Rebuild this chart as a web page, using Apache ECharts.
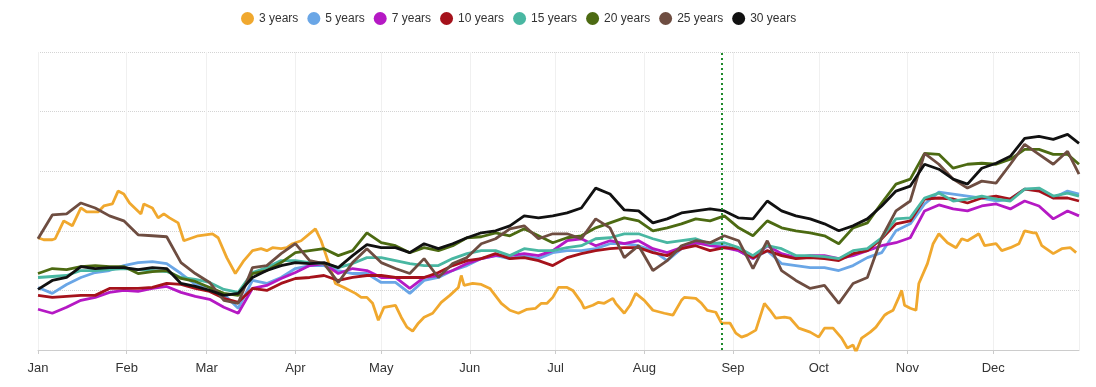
<!DOCTYPE html>
<html><head><meta charset="utf-8">
<style>html,body{margin:0;padding:0;background:#fff}#c{width:1096px;height:387px}</style>
<script src="https://cdn.jsdelivr.net/npm/echarts@6/dist/echarts.min.js"></script>
</head><body><div id="c"></div>
<script>
// day-of-year sampling shared by the 5..30 year series
const days = [0,5,10,15,20,25,30,35,40,45,50,55,60,65,70,75,80,85,90,95,100,105,110,115,120,125,130,135,140,145,150,155,160,165,170,175,180,185,190,195,200,205,210,215,220,225,230,235,240,245,250,255,260,265,270,275,280,285,290,295,300,305,310,315,320,325,330,335,340,345,350,355,360,364];

const days3 = [0,2,5,6,9,12,15,17,21,23,26,28,30,32,36,37,40,42,44,46,49,51,56,61,63,66,69,72,75,78,80,82,85,87,89,92,97,99,101,104,107,111,113,115,117,119,121,125,127,129,131,133,135,138,141,144,147,148,149,152,155,158,162,165,168,171,174,176,178,180,182,185,187,190,191,194,196,198,201,202,205,207,209,212,215,219,222,225,226,230,232,234,237,239,242,244,246,248,251,254,256,258,261,263,266,270,273,275,278,281,283,285,286,288,291,293,296,297,299,301,302,303,305,307,308,311,313,315,318,321,323,325,329,331,335,337,340,343,345,348,349,351,355,358,361,363];
const y3 = [1.13,1.11,1.11,1.12,1.30,1.25,1.43,1.39,1.39,1.45,1.47,1.60,1.57,1.48,1.37,1.47,1.43,1.33,1.37,1.33,1.28,1.10,1.15,1.17,1.13,0.93,0.77,0.90,1.00,1.02,1.00,1.03,1.02,1.03,1.07,1.10,1.22,1.10,0.93,0.67,0.63,0.57,0.53,0.53,0.47,0.30,0.43,0.45,0.33,0.23,0.19,0.27,0.33,0.37,0.48,0.55,0.63,0.75,0.65,0.67,0.66,0.62,0.47,0.40,0.37,0.41,0.42,0.47,0.47,0.53,0.63,0.63,0.60,0.48,0.42,0.45,0.48,0.47,0.52,0.47,0.37,0.45,0.57,0.50,0.40,0.37,0.35,0.50,0.53,0.52,0.47,0.40,0.38,0.27,0.27,0.17,0.13,0.15,0.20,0.47,0.40,0.32,0.33,0.32,0.22,0.18,0.13,0.22,0.22,0.12,0.02,0.05,-0.02,0.12,0.18,0.23,0.35,0.37,0.40,0.53,0.60,0.45,0.42,0.40,0.67,0.87,1.07,1.17,1.08,1.03,1.12,1.10,1.17,1.05,1.07,1.00,1.03,1.07,1.20,1.18,1.18,1.05,0.97,1.02,1.03,0.98];

const y5 = [0.63,0.57,0.66,0.73,0.78,0.80,0.85,0.88,0.89,0.87,
 0.77,0.66,0.63,0.56,0.42,0.70,0.67,0.73,0.82,0.85,
 0.85,0.80,0.77,0.77,0.68,0.68,0.57,0.70,0.73,0.80,
 0.85,0.92,0.95,0.92,0.95,0.92,0.98,1.00,1.00,1.02,
 1.07,1.07,1.05,1.00,0.90,1.02,1.07,1.07,1.05,1.00,
 0.92,1.00,0.87,0.85,0.83,0.83,0.80,0.85,0.93,0.98,
 1.20,1.27,1.47,1.59,1.57,1.55,1.53,1.50,1.52,1.62,
 1.62,1.53,1.60,1.57];
const y7 = [0.41,0.37,0.43,0.50,0.53,0.58,0.60,0.59,0.62,0.64,
 0.58,0.54,0.51,0.43,0.37,0.62,0.65,0.72,0.78,0.85,
 0.87,0.77,0.82,0.80,0.73,0.73,0.62,0.73,0.75,0.80,
 0.87,0.92,0.95,0.95,0.97,0.95,1.00,1.10,1.12,1.05,
 1.10,1.07,1.10,1.02,0.98,1.03,1.08,1.05,1.03,1.00,
 0.92,1.05,0.97,0.93,0.95,0.95,0.92,0.95,1.00,1.05,
 1.08,1.13,1.40,1.46,1.42,1.40,1.45,1.47,1.42,1.50,
 1.45,1.32,1.40,1.35];
const y10 = [0.55,0.53,0.54,0.55,0.55,0.62,0.62,0.62,0.63,0.67,
 0.66,0.62,0.59,0.52,0.48,0.62,0.60,0.67,0.72,0.73,
 0.75,0.70,0.73,0.75,0.75,0.73,0.73,0.73,0.78,0.85,
 0.90,0.92,0.97,0.92,0.93,0.90,0.85,0.93,0.97,1.00,
 1.02,1.03,1.03,0.98,0.95,1.02,1.05,1.00,1.03,1.02,
 0.93,1.00,0.95,0.92,0.93,0.92,0.90,0.97,1.00,1.12,
 1.27,1.30,1.52,1.53,1.52,1.48,1.53,1.55,1.52,1.62,
 1.60,1.53,1.53,1.50];
const y15 = [0.73,0.74,0.75,0.80,0.80,0.81,0.82,0.81,0.80,0.79,
 0.73,0.71,0.68,0.61,0.58,0.78,0.83,0.90,0.90,0.88,
 0.87,0.83,0.87,0.93,0.93,0.90,0.87,0.85,0.85,0.92,
 0.97,1.00,1.00,0.95,1.02,1.00,1.00,1.03,1.05,1.12,
 1.13,1.17,1.17,1.12,1.08,1.10,1.12,1.07,1.08,1.03,
 0.95,1.05,1.02,0.95,0.95,0.94,0.92,1.00,1.02,1.13,
 1.32,1.33,1.53,1.58,1.50,1.52,1.55,1.52,1.50,1.62,
 1.63,1.55,1.58,1.55];
const y20 = [0.77,0.82,0.81,0.84,0.85,0.84,0.84,0.77,0.79,0.80,
 0.72,0.69,0.63,0.57,0.55,0.77,0.80,0.88,0.98,1.00,
 1.02,0.95,1.00,1.18,1.08,1.05,0.98,1.03,1.00,1.05,
 1.13,1.14,1.18,1.15,1.22,1.15,1.08,1.13,1.15,1.23,
 1.28,1.33,1.30,1.20,1.23,1.27,1.32,1.30,1.35,1.23,
 1.15,1.30,1.23,1.20,1.18,1.15,1.07,1.23,1.28,1.48,
 1.67,1.72,1.98,1.97,1.83,1.87,1.88,1.87,1.92,2.02,
 2.02,1.97,1.97,1.87];
const y25 = [1.12,1.36,1.37,1.48,1.43,1.35,1.30,1.16,1.15,1.14,
 0.88,0.77,0.68,0.50,0.47,0.83,0.85,0.97,1.07,0.90,
 0.87,0.68,0.88,1.02,0.88,0.82,0.77,0.92,0.73,0.87,
 0.93,1.07,1.12,1.22,1.25,1.12,1.17,1.17,1.12,1.32,
 1.23,0.93,1.05,0.80,0.90,1.05,1.10,1.08,1.15,1.10,
 0.82,1.10,0.80,0.70,0.62,0.65,0.47,0.67,0.73,1.13,
 1.40,1.50,1.98,1.87,1.72,1.63,1.70,1.68,1.87,2.07,
 1.97,1.87,2.00,1.77];
const y30 = [0.61,0.70,0.73,0.84,0.82,0.83,0.83,0.81,0.83,0.82,
 0.67,0.64,0.60,0.55,0.57,0.73,0.80,0.85,0.88,0.87,
 0.88,0.83,0.95,1.06,1.03,1.03,0.98,1.07,1.02,1.07,
 1.13,1.18,1.20,1.25,1.35,1.33,1.35,1.38,1.43,1.63,
 1.57,1.41,1.40,1.28,1.32,1.38,1.40,1.42,1.40,1.33,
 1.32,1.50,1.40,1.35,1.32,1.27,1.20,1.25,1.32,1.45,
 1.60,1.65,1.87,1.82,1.72,1.67,1.83,1.88,1.95,2.13,
 2.15,2.12,2.17,2.08];

const names = ['3 years','5 years','7 years','10 years','15 years','20 years','25 years','30 years'];
const colors = ['#F0A82E','#6AA6E6','#B519C4','#A5121B','#49B7A2','#4C6A12','#6E4D41','#111111'];
const markerDay = 239;
const year = 2019;

function toDate(d){ return new Date(year, 0, 1 + d); }
function pairs(ds, vs){ return ds.map((d,i)=>[toDate(d), vs[i]]); }

const dataSets = [pairs(days3,y3), pairs(days,y5), pairs(days,y7), pairs(days,y10),
                  pairs(days,y15), pairs(days,y20), pairs(days,y25), pairs(days,y30)];

const series = names.map((n,i)=>({
  name: n, type: 'line', data: dataSets[i], showSymbol: false, symbol: 'none',
  lineStyle: { width: 2.8, color: colors[i] }, itemStyle: { color: colors[i] },
  clip: true
}));
series[0].markLine = {
  silent: true, symbol: ['none','none'], label: { show: false },
  lineStyle: { type: [2,3], color: '#1F8A2C', width: 2 },
  data: [{ xAxis: toDate(markerDay) }]
};

const chart = echarts.init(document.getElementById('c'), null, { renderer: 'canvas' });
chart.setOption({
  animation: false,
  textStyle: { fontFamily: 'Liberation Sans, Arial, sans-serif' },
  legend: {
    data: names, top: 12, left: 241, icon: 'circle', itemWidth: 13, itemHeight: 13, itemGap: 9,
    padding: 0, textStyle: { fontSize: 12, color: '#333' }
  },
  grid: { left: 38, right: 17, top: 52, bottom: 37 },
  xAxis: {
    type: 'time', min: toDate(0), max: toDate(364), splitNumber: 12,
    axisLabel: { formatter: '{MMM}', color: '#333', fontSize: 13, margin: 12, showMaxLabel: false },
    axisLine: { lineStyle: { color: '#ccc' } },
    axisTick: { show: true, length: 4, lineStyle: { color: '#ccc' } },
    splitLine: { show: true, lineStyle: { color: '#f0f0f0', width: 1 } }
  },
  yAxis: {
    type: 'value', min: 0, max: 3, interval: 0.6,
    axisLabel: { show: false }, axisLine: { show: false }, axisTick: { show: false },
    splitLine: { lineStyle: { type: 'dotted', color: '#d4d4d4' } }
  },
  series: series
});
</script></body></html>
